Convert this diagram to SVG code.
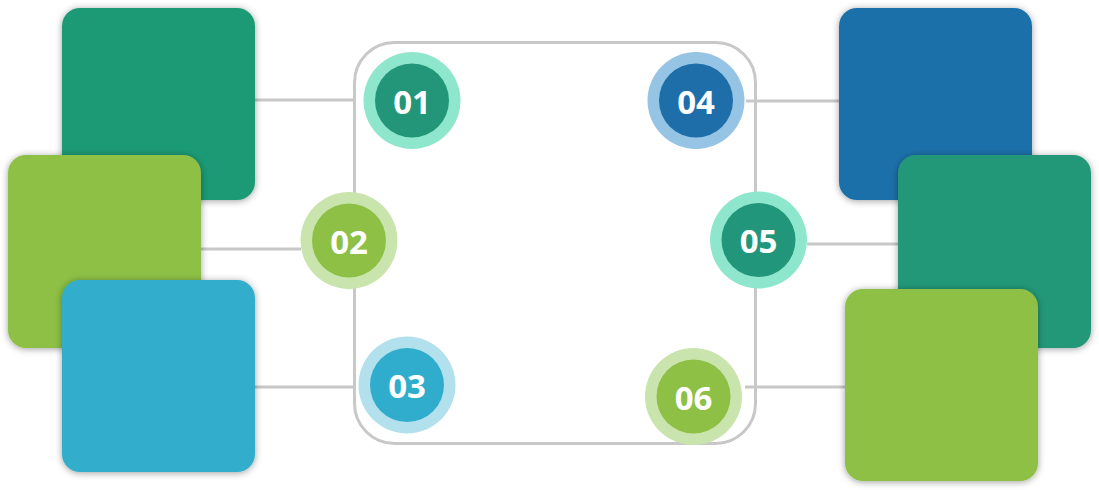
<svg xmlns="http://www.w3.org/2000/svg" width="1099" height="490" viewBox="0 0 1099 490">
<defs>
<filter id="sh" x="-20%" y="-20%" width="140%" height="140%">
<feDropShadow dx="0" dy="1" stdDeviation="3.5" flood-color="#000" flood-opacity="0.38"/>
</filter>
<style>
.ln{stroke:#c8c8c8;stroke-width:3;fill:none}
.sq{filter:url(#sh)}
.num{font-family:"Open Sans","Noto Sans",sans-serif;font-weight:bold;font-size:33px;fill:#fff;text-anchor:middle;dominant-baseline:central}
</style>
</defs>
<rect width="1099" height="490" fill="#fff"/>
<g id="connectors">
<rect class="ln" x="354.5" y="42.5" width="401" height="401" rx="40"/>
<line class="ln" x1="255" y1="100" x2="355" y2="100"/>
<line class="ln" x1="201" y1="249" x2="301" y2="249"/>
<line class="ln" x1="255" y1="387" x2="355" y2="387"/>
<line class="ln" x1="746" y1="101" x2="839" y2="101"/>
<line class="ln" x1="807" y1="244" x2="898" y2="244"/>
<line class="ln" x1="745" y1="387" x2="845" y2="387"/>
</g>
<g id="sq1"><rect class="sq" x="62" y="8" width="193" height="192" rx="18" fill="#1b9a76"/></g>
<g id="sq2"><rect class="sq" x="8" y="155" width="193" height="193" rx="18" fill="#8dc045"/></g>
<g id="sq3"><rect class="sq" x="62" y="280" width="193" height="192" rx="18" fill="#30adcc"/></g>
<g id="sq4"><rect class="sq" x="839" y="8" width="193" height="192" rx="18" fill="#1e70aa"/></g>
<g id="sq5"><rect class="sq" x="898" y="155" width="193" height="193" rx="18" fill="#209878"/></g>
<g id="sq6"><rect class="sq" x="845" y="289" width="193" height="192" rx="18" fill="#8dc045"/></g>
<g id="n01"><circle cx="412" cy="100.5" r="48.5" fill="#8ee6cc"/><circle cx="412" cy="100.5" r="37" fill="#23967a"/><text class="num" x="412" y="101">01</text></g>
<g id="n02"><circle cx="349" cy="240.5" r="48.5" fill="#c9e5ad"/><circle cx="349" cy="240.5" r="37" fill="#8dc045"/><text class="num" x="349" y="241">02</text></g>
<g id="n03"><circle cx="407" cy="385" r="48.5" fill="#b2e0ec"/><circle cx="407" cy="385" r="37" fill="#30adcc"/><text class="num" x="407" y="385.5">03</text></g>
<g id="n04"><circle cx="696" cy="100.5" r="48.5" fill="#96c4e4"/><circle cx="696" cy="100.5" r="37" fill="#1e6eaa"/><text class="num" x="696" y="101">04</text></g>
<g id="n05"><circle cx="758.5" cy="240" r="48.5" fill="#8ee6cc"/><circle cx="758.5" cy="240" r="37" fill="#22967a"/><text class="num" x="758.5" y="240.5">05</text></g>
<g id="n06"><circle cx="693.5" cy="396.5" r="48.5" fill="#c9e5ad"/><circle cx="693.5" cy="396.5" r="37" fill="#8dc045"/><text class="num" x="693.5" y="397">06</text></g>
</svg>
